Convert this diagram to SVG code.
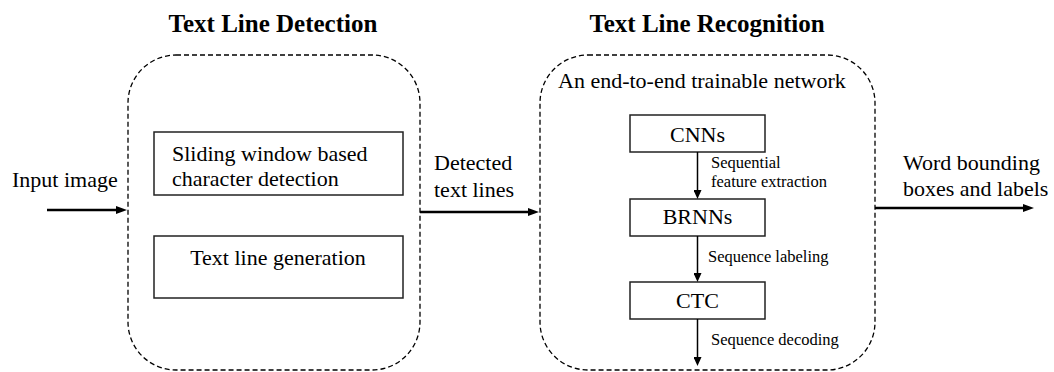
<svg xmlns="http://www.w3.org/2000/svg" width="1054" height="372" viewBox="0 0 1054 372">
  <style>
    text { font-family: "Liberation Serif", "Times New Roman", serif; fill: #000; }
    .title { font-size: 25px; font-weight: bold; text-anchor: middle; }
    .lbl { font-size: 22px; }
    .mid { text-anchor: middle; }
    .small { font-size: 16.5px; }
    .group { fill: none; stroke: #000; stroke-width: 1.3; stroke-dasharray: 5 3; }
    .box { fill: #fff; stroke: #222; stroke-width: 1.5; }
    .flow { fill: none; stroke: #000; stroke-width: 2.5; }
    .step { fill: none; stroke: #000; stroke-width: 1.5; }
  </style>
  <defs>
    <marker id="headBig" markerUnits="userSpaceOnUse" markerWidth="11" markerHeight="8" refX="1" refY="4" orient="auto">
      <path d="M0,0 L11,4 L0,8 z" fill="#000"/>
    </marker>
    <marker id="headSmall" markerUnits="userSpaceOnUse" markerWidth="9" markerHeight="8" refX="1" refY="4" orient="auto">
      <path d="M0,0 L9,4 L0,8 z" fill="#000"/>
    </marker>
  </defs>

  <rect width="1054" height="372" fill="#fff"/>

  <!-- section titles -->
  <text class="title" x="273" y="32">Text Line Detection</text>
  <text class="title" x="707" y="32">Text Line Recognition</text>

  <!-- detection stage -->
  <g id="detection">
    <rect class="group" x="128" y="55" width="292" height="315" rx="48" ry="48"/>
  </g>
  <g id="char-detection">
    <rect class="box" x="154" y="132" width="249" height="63"/>
    <text class="lbl" x="172" y="161">Sliding window based</text>
    <text class="lbl" x="172" y="186">character detection</text>
  </g>
  <g id="line-generation">
    <rect class="box" x="154" y="236" width="249" height="62"/>
    <text class="lbl mid" x="278" y="265">Text line generation</text>
  </g>

  <!-- recognition stage -->
  <g id="recognition">
    <rect class="group" x="540" y="55" width="335" height="315" rx="48" ry="48"/>
    <text class="lbl" x="558" y="88">An end-to-end trainable network</text>
  </g>
  <g id="cnns">
    <rect class="box" x="630" y="115" width="135" height="37"/>
    <text class="lbl mid" x="697.5" y="141.5">CNNs</text>
  </g>
  <g id="brnns">
    <rect class="box" x="630" y="199" width="135" height="37"/>
    <text class="lbl mid" x="697.5" y="224">BRNNs</text>
  </g>
  <g id="ctc">
    <rect class="box" x="630" y="282" width="135" height="37"/>
    <text class="lbl mid" x="697.5" y="308">CTC</text>
  </g>

  <!-- free labels -->
  <g id="input-label">
    <text class="lbl" x="12" y="187">Input image</text>
  </g>
  <g id="detected-label">
    <text class="lbl" x="434" y="170">Detected</text>
    <text class="lbl" x="434" y="197">text lines</text>
  </g>
  <g id="output-label">
    <text class="lbl" x="903" y="170">Word bounding</text>
    <text class="lbl" x="903" y="196">boxes and labels</text>
  </g>

  <!-- connectors -->
  <g id="connectors">
    <line class="flow" x1="47" y1="210" x2="117" y2="210" marker-end="url(#headBig)"/>
    <line class="flow" x1="420" y1="212" x2="529" y2="212" marker-end="url(#headBig)"/>
    <line class="flow" x1="875" y1="208" x2="1024" y2="208" marker-end="url(#headBig)"/>

    <line class="step" x1="697.5" y1="152" x2="697.5" y2="191" marker-end="url(#headSmall)"/>
    <text class="small" x="711" y="168">Sequential</text>
    <text class="small" x="711" y="187">feature extraction</text>

    <line class="step" x1="697.5" y1="236" x2="697.5" y2="274" marker-end="url(#headSmall)"/>
    <text class="small" x="708" y="262">Sequence labeling</text>

    <line class="step" x1="697.5" y1="319" x2="697.5" y2="358" marker-end="url(#headSmall)"/>
    <text class="small" x="711" y="345">Sequence decoding</text>
  </g>
</svg>
